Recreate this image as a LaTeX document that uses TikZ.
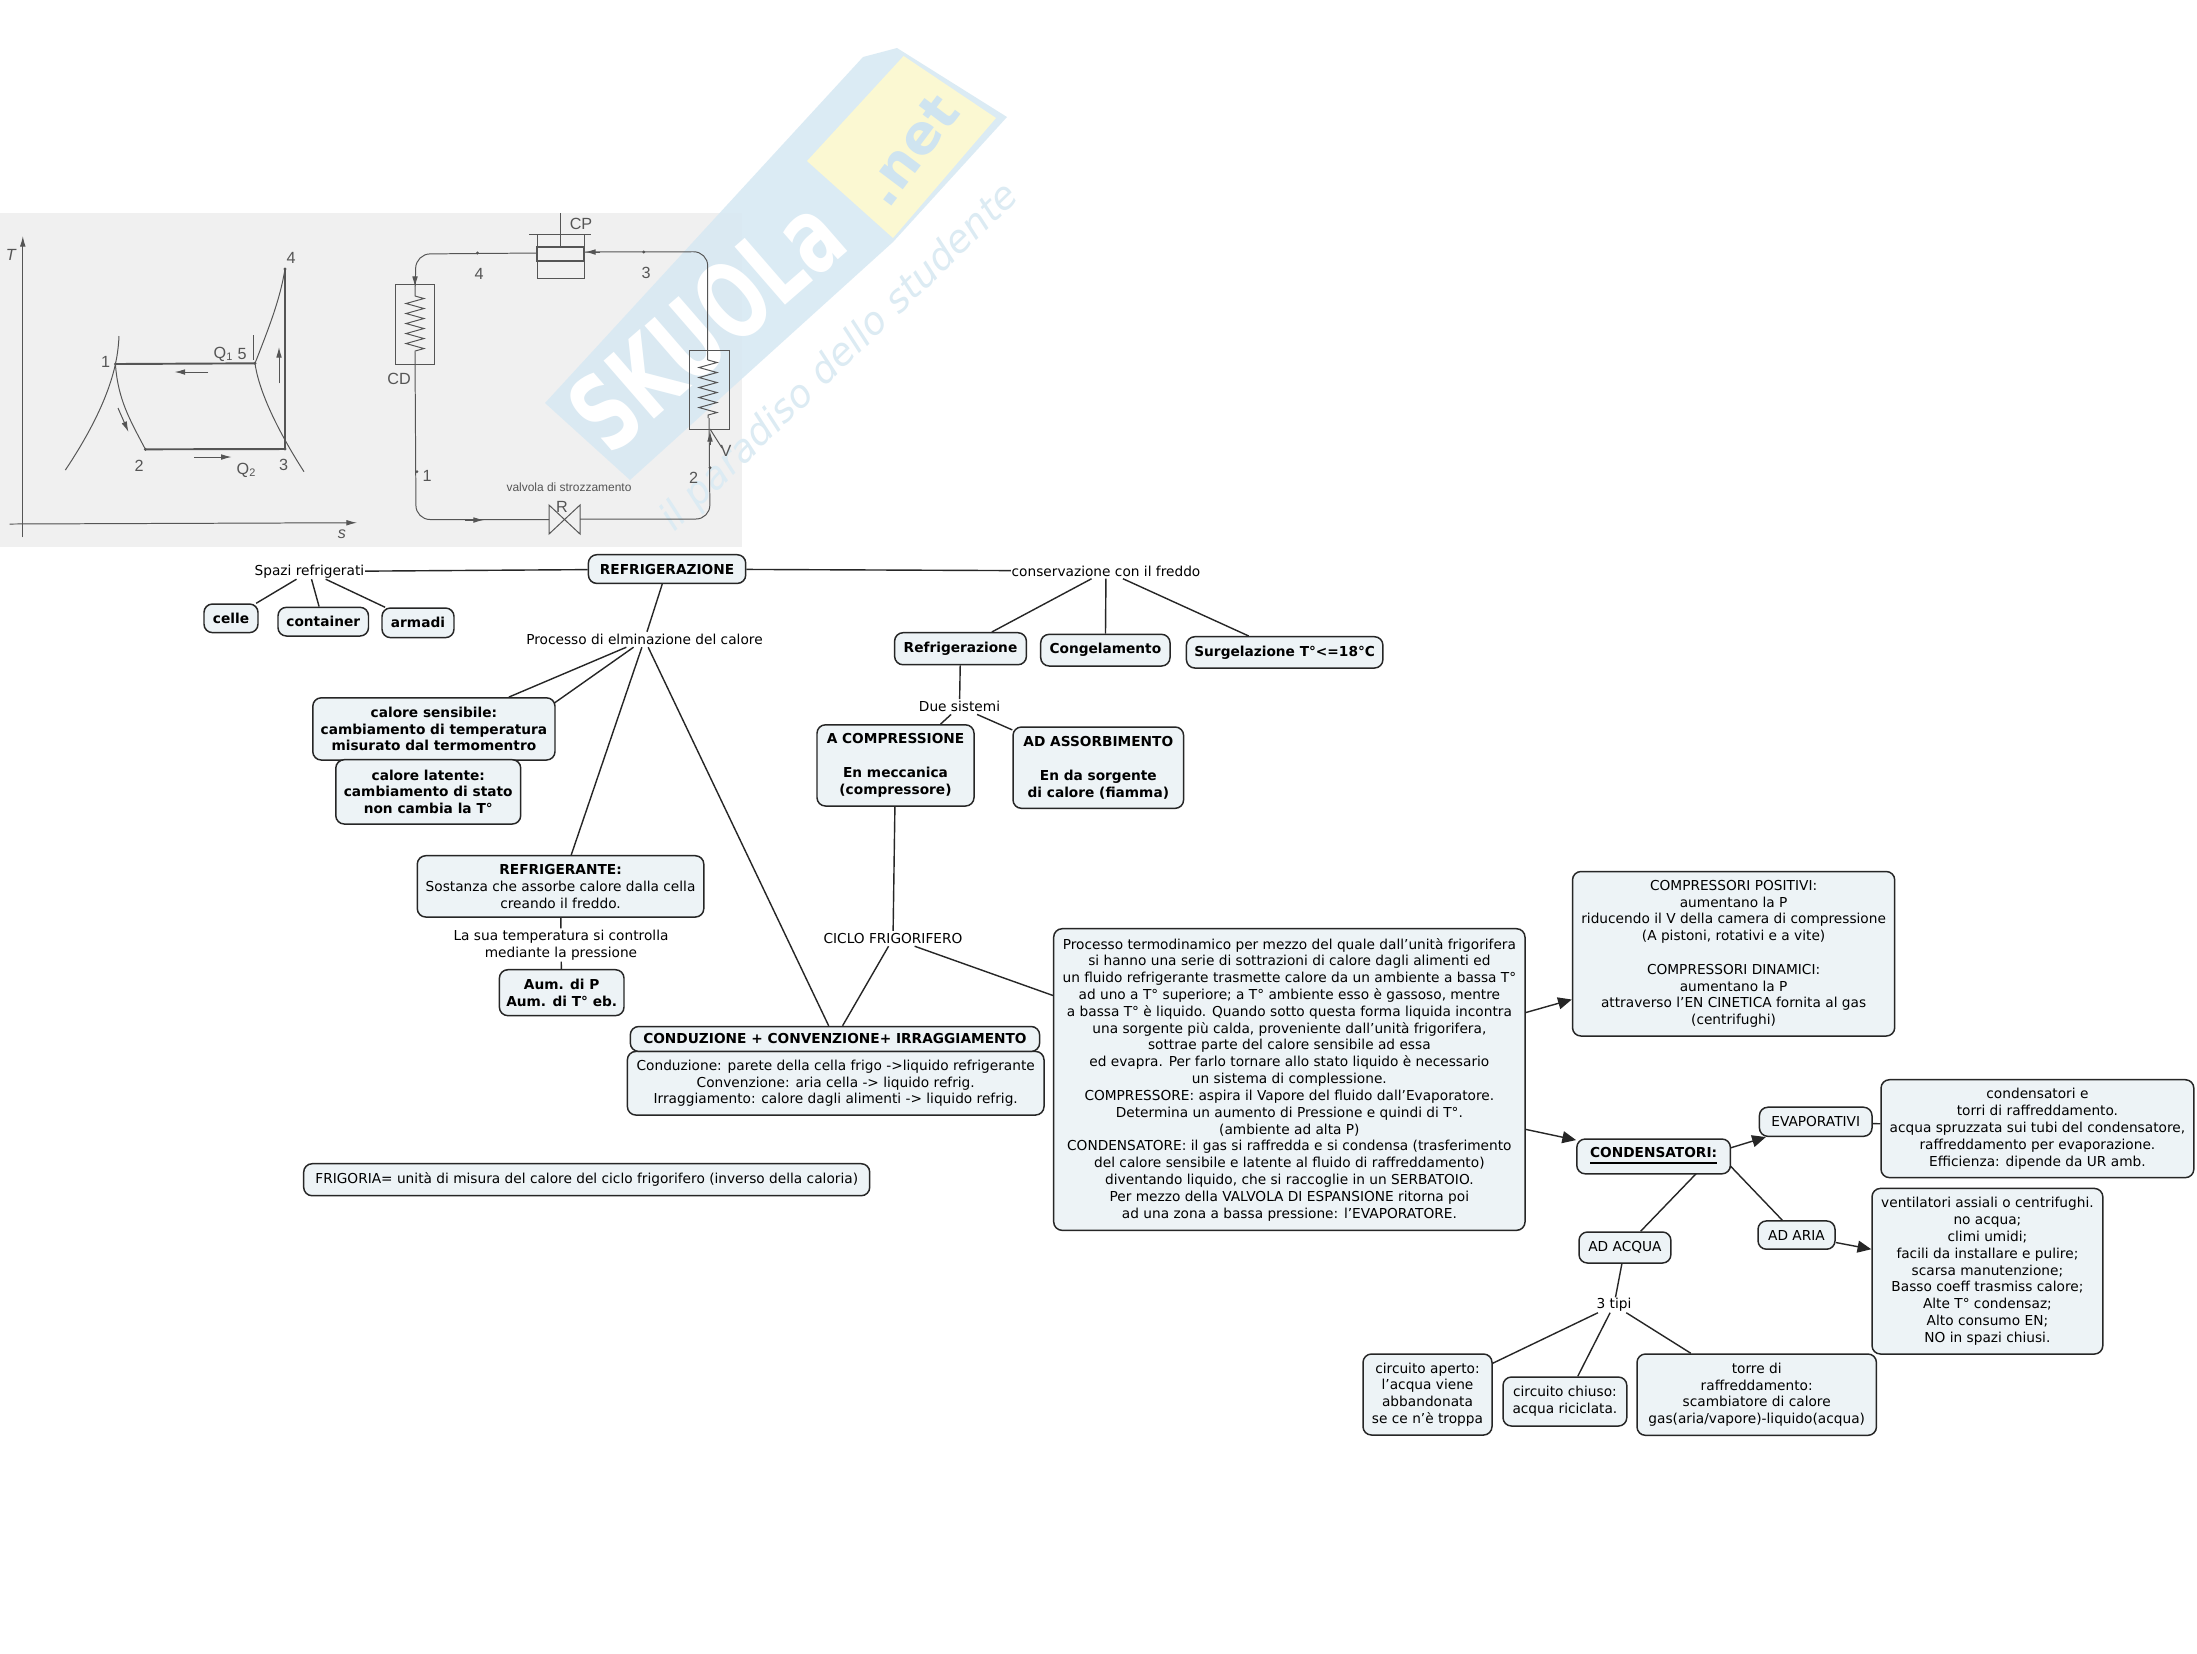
\documentclass[tikz,border=0pt]{standalone}
\usepackage{fontspec}
\setmainfont{DejaVu Sans}
\newfontfamily\picfont{Liberation Sans}
\usetikzlibrary{arrows.meta,decorations.pathmorphing,calc}
\pgfdeclarelayer{background}
\pgfsetlayers{background,main}
\definecolor{boxfill}{HTML}{EDF3F6}
\definecolor{picbg}{HTML}{F0F0F0}
\definecolor{picink}{HTML}{555555}
\definecolor{wmblue}{HTML}{D8E9F3}
\definecolor{wmnet}{HTML}{CFE4F0}
\definecolor{wmtext}{HTML}{DCEBF3}
\definecolor{wmyellow}{HTML}{FBF8D2}
\tikzset{
  x=0.01cm,y=-0.01cm,
  cbox/.style={draw=black!85,line width=0.42pt,fill=boxfill,rounded corners=2.4pt,inner sep=0pt,align=center,
     font=\fontsize{3.9}{4.78}\selectfont},
  bbox/.style={cbox,font=\fontsize{3.9}{4.78}\selectfont\bfseries},
  lbl/.style={inner sep=0pt,align=center,font=\fontsize{3.9}{4.78}\selectfont},
  link/.style={draw=black!85,line width=0.4pt},
  arrowlink/.style={link,-{Triangle[length=3.9pt,width=3.4pt]}},
  picline/.style={draw=picink,line width=0.28pt},
  picthick/.style={draw=picink,line width=0.55pt},
  pictip/.style={-{Latex[length=3pt,width=1.6pt]},draw=picink,fill=picink,line width=0.28pt},
  pictxt/.style={inner sep=0pt,text=picink,font=\picfont\fontsize{4.6}{5}\selectfont},
  picdot/.style={circle,fill=picink,draw=none,inner sep=0pt,minimum size=0.9pt},
}
\newcommand{\boxat}[7]{%
  \pgfmathsetmacro\cxx{(#3+#5)/2}\pgfmathsetmacro\cyy{(#4+#6)/2}%
  \pgfmathsetmacro\wxx{(#5-#3)*0.01}\pgfmathsetmacro\hxx{(#6-#4)*0.01}%
  \node[#2,minimum width=\wxx cm,minimum height=\hxx cm] (#1) at (\cxx,\cyy) {#7};}
\newcommand{\qsub}[2]{#1\raisebox{-0.8pt}{\fontsize{3.1}{3.1}\selectfont #2}}
\begin{document}
\begin{tikzpicture}
\useasboundingbox (0,0) rectangle (2197,1653);
\begin{pgfonlayer}{background}
\fill[white] (0,0) rectangle (2197,1653);
% scanned picture background
\fill[picbg] (0,213) rectangle (742,547);
% watermark
\fill[wmblue,fill opacity=.9] (545,403) -- (863,57) -- (897,48) -- (1007,117) -- (893,242) -- (630,480) -- cycle;
\fill[wmyellow] (807,161) -- (903.6,56) -- (996,118) -- (893,238) -- cycle;
\node[rotate=41,text=white,inner sep=0pt] (wmA) at (706,324) {\scalebox{.68}[1]{\fontsize{30}{30}\selectfont\bfseries SKUOLa}};
\node[rotate=53,text=wmnet,font=\fontsize{15.5}{15.5}\selectfont\bfseries,inner sep=0pt] (wmB) at (910,150) {.net};
\node[rotate=44,text=wmtext,font=\fontsize{10.8}{10.8}\selectfont\itshape,inner sep=0pt] (wmC) at (840,358) {il paradiso dello studente};
% T-s diagram
\draw[pictip] (22.8,537) -- (22.8,236);
\draw[pictip] (9.7,524) -- (357,522.7);
\draw[picline] (119,336) .. controls (118,360) and (112,400) .. (65.4,470);
\draw[picline] (304,471.7) .. controls (290,450) and (260,400) .. (255,363.3);
\draw[picline] (115.4,364) .. controls (118,400) and (130,420) .. (145.4,449.3);
\draw[picline] (255,363.3) .. controls (268,330) and (280,300) .. (285,269);
\draw[picthick] (115.4,364) -- (255,363.3);
\draw[picthick] (145.4,449.3) -- (285,449);
\draw[picthick] (285,449) -- (285,269);
\draw[pictip] (208,372) -- (174.5,372);
\draw[pictip] (194,457) -- (231.7,457);
\draw[pictip] (279,383) -- (279,347);
\draw[pictip] (118,408) -- (128.5,432);
\draw[picline] (253,335) -- (253,360);
\foreach \p in {(115.4,364),(255,363.3),(285,269),(285,449),(145.4,449.3)} \node[picdot] at \p {};
% refrigeration circuit
\draw[picline,rounded corners=4pt] (537,253) -- (416,254) -- (415,296);
\draw[picline,rounded corners=4pt] (415,352) -- (416,519.5) -- (549,519.5);
\draw[picline,rounded corners=4pt] (580,519) -- (710,519) -- (709,418);
\draw[picline,rounded corners=4pt] (707.7,360) -- (707.7,251.7) -- (584,252);
\draw[picline,decorate,decoration={zigzag,segment length=0.1cm,amplitude=0.09cm}] (415,296) -- (415,352);
\draw[picline,decorate,decoration={zigzag,segment length=0.1cm,amplitude=0.09cm}] (708,360) -- (708,418);
\draw[picline] (395,284.7) rectangle (434,364.7);
\draw[picline] (689,350) rectangle (729,429);
\draw[picline] (537,234) -- (537,278.3) -- (584,278.3) -- (584,234);
\draw[picline] (529,234) -- (591,234);
\draw[picthick] (537,246.7) rectangle (584,261);
\draw[picline] (560,213) -- (560,246.7);
\draw[picline] (549,505) -- (580,534) -- (580,505) -- (549,534) -- cycle;
\draw[picline] (710,429) -- (722,448);
\draw[pictip] (600,252) -- (585,252);
\draw[pictip] (415,270) -- (415,287);
\draw[pictip] (465,520) -- (484,520);
\draw[pictip] (710,445) -- (710,431);
\foreach \p in {(477.5,253),(643.7,252),(416.9,471.7),(710,467.7)} \node[picdot] at \p {};
\end{pgfonlayer}
% picture labels
\node[pictxt] (pT) at (10.7,255) {\itshape T};
\node[pictxt] (ps) at (342,534) {\itshape s};
\node[pictxt] (p1) at (105.7,362) {1};
\node[pictxt] (p5) at (242,354) {5};
\node[pictxt] (pQ1) at (223,354) {\qsub{Q}{1}};
\node[pictxt] (p4) at (291,258) {4};
\node[pictxt] (p2) at (139,466) {2};
\node[pictxt] (p3) at (283.6,465) {3};
\node[pictxt] (pQ2) at (246,470) {\qsub{Q}{2}};
\node[pictxt] (cCP) at (581,224) {CP};
\node[pictxt] (cCD) at (399,379) {CD};
\node[pictxt] (c4) at (479,274) {4};
\node[pictxt] (c3) at (646,273) {3};
\node[pictxt] (c1) at (427,476) {1};
\node[pictxt] (c2) at (693.6,477.7) {2};
\node[pictxt] (cV) at (726,450.7) {V};
\node[pictxt] (cR) at (562,507) {R};
\node[pictxt,font=\picfont\fontsize{3.4}{4}\selectfont] (cval) at (569,487) {valvola di strozzamento};
% concept nodes
\boxat{refr}{bbox}{588.4}{554.7}{745.7}{583.4}{REFRIGERAZIONE}
\boxat{spazi}{lbl}{254.3}{564.5}{364.5}{578.5}{Spazi refrigerati}
\boxat{celle}{bbox}{204}{604}{258}{632.6}{celle}
\boxat{cont}{bbox}{278}{607.3}{368.5}{636}{container}
\boxat{arm}{bbox}{382}{608}{454}{637.6}{armadi}
\boxat{proc}{lbl}{526}{632.5}{763}{646.5}{Processo di elminazione del calore}
\boxat{sens}{bbox}{312.8}{697.8}{555}{760}{calore sensibile:\\cambiamento di temperatura\\misurato dal termomentro}
\boxat{lat}{bbox}{335.8}{759.7}{520.7}{824}{calore latente:\\cambiamento di stato\\non cambia la T°}
\boxat{rfg}{cbox}{417.3}{855.7}{703.8}{917}{\textbf{REFRIGERANTE:}\\Sostanza che assorbe calore dalla cella\\creando il freddo.}
\boxat{sua}{lbl}{452}{929}{670}{961}{La sua temperatura si controlla\\mediante la pressione}
\boxat{aum}{bbox}{499.4}{969.7}{624}{1015.6}{Aum. di P\\Aum. di T° eb.}
\boxat{ciclo}{lbl}{820}{931.5}{966}{945.5}{CICLO FRIGORIFERO}
\boxat{cond}{cbox}{627.4}{1051.4}{1044}{1115}{Conduzione: parete della cella frigo ->liquido refrigerante\\Convenzione: aria cella -> liquido refrig.\\Irraggiamento: calore dagli alimenti -> liquido refrig.}
\boxat{condh}{bbox}{630.3}{1026.5}{1039.6}{1051.4}{CONDUZIONE + CONVENZIONE+ IRRAGGIAMENTO}
\boxat{frig}{cbox}{303.7}{1163.7}{869.7}{1195.7}{FRIGORIA= unità di misura del calore del ciclo frigorifero (inverso della caloria)}
\boxat{cons}{lbl}{1012}{564}{1200}{578}{conservazione con il freddo}
\boxat{refg}{bbox}{894.6}{632.7}{1026.4}{664.7}{Refrigerazione}
\boxat{cong}{bbox}{1040.7}{634.3}{1170}{666}{Congelamento}
\boxat{surg}{bbox}{1186.4}{636.7}{1382.9}{668}{Surgelazione T°<=18°C}
\boxat{due}{lbl}{919}{699.7}{1000}{713.7}{Due sistemi}
\boxat{acomp}{bbox}{817}{724.8}{974}{806}{A COMPRESSIONE\\[4.78pt]En meccanica\\(compressore)}
\boxat{assorb}{bbox}{1013}{727}{1183.6}{808.3}{AD ASSORBIMENTO\\[4.78pt]En da sorgente\\di calore (fiamma)}
\boxat{main}{cbox}{1053.7}{928.7}{1525}{1230.3}{Processo termodinamico per mezzo del quale dall'unità frigorifera\\si hanno una serie di sottrazioni di calore dagli alimenti ed\\un fluido refrigerante trasmette calore da un ambiente a bassa T°\\ad uno a T° superiore; a T° ambiente esso è gassoso, mentre\\a bassa T° è liquido. Quando sotto questa forma liquida incontra\\una sorgente più calda, proveniente dall'unità frigorifera,\\sottrae parte del calore sensibile ad essa\\ed evapra. Per farlo tornare allo stato liquido è necessario\\un sistema di complessione.\\COMPRESSORE: aspira il Vapore del fluido dall'Evaporatore.\\Determina un aumento di Pressione e quindi di T°.\\(ambiente ad alta P)\\CONDENSATORE: il gas si raffredda e si condensa (trasferimento\\del calore sensibile e latente al fluido di raffreddamento)\\diventando liquido, che si raccoglie in un SERBATOIO.\\Per mezzo della VALVOLA DI ESPANSIONE ritorna poi\\ad una zona a bassa pressione: l'EVAPORATORE.}
\boxat{compr}{cbox}{1572.5}{871.5}{1894.7}{1036}{COMPRESSORI POSITIVI:\\aumentano la P\\riducendo il V della camera di compressione\\(A pistoni, rotativi e a vite)\\[4.78pt]COMPRESSORI DINAMICI:\\aumentano la P\\attraverso l'EN CINETICA fornita al gas\\(centrifughi)}
\boxat{condz}{bbox}{1576.8}{1139}{1730.4}{1173.8}{\underline{CONDENSATORI:}}
\coordinate (hub) at (1717,1152);
\boxat{evap}{cbox}{1759.4}{1107.2}{1872}{1136.3}{EVAPORATIVI}
\boxat{evapt}{cbox}{1881}{1079.7}{2193.8}{1177.6}{condensatori e\\torri di raffreddamento.\\acqua spruzzata sui tubi del condensatore,\\raffreddamento per evaporazione.\\Efficienza: dipende da UR amb.}
\boxat{acqua}{cbox}{1579}{1232}{1670.9}{1263}{AD ACQUA}
\boxat{aria}{cbox}{1758}{1220.9}{1835}{1249.2}{AD ARIA}
\boxat{vent}{cbox}{1872}{1188.4}{2102.8}{1354}{ventilatori assiali o centrifughi.\\no acqua;\\climi umidi;\\facili da installare e pulire;\\scarsa manutenzione;\\Basso coeff trasmiss calore;\\Alte T° condensaz;\\Alto consumo EN;\\NO in spazi chiusi.}
\boxat{tipi}{lbl}{1594}{1298}{1634}{1312}{3 tipi}
\boxat{torre}{cbox}{1637}{1354}{1876.4}{1435.3}{torre di\\raffreddamento:\\scambiatore di calore\\gas(aria/vapore)-liquido(acqua)}
\boxat{chiuso}{cbox}{1503}{1377}{1626.8}{1426}{circuito chiuso:\\acqua riciclata.}
\boxat{aperto}{cbox}{1363}{1354}{1492}{1435}{circuito aperto:\\l'acqua viene\\abbandonata\\se ce n'è troppa}
% connectors
\begin{pgfonlayer}{background}
\draw[link] (spazi) -- (refr);
\draw[link] (refr) -- (cons);
\draw[link] (spazi) -- (celle);
\draw[link] (spazi) -- (cont);
\draw[link] (spazi) -- (arm);
\draw[link] (refr) -- (proc);
\draw[link] (proc) -- (sens);
\draw[link] (proc) -- (lat);
\draw[link] (proc) -- (rfg);
\draw[link] (proc) -- (condh);
\draw[link] (rfg) -- (sua);
\draw[link] (sua) -- (aum);
\draw[link] (cons) -- (refg);
\draw[link] (cons) -- (cong);
\draw[link] (cons) -- (surg);
\draw[link] (refg) -- (due);
\draw[link] (due) -- (acomp);
\draw[link] (due) -- (assorb);
\draw[link] (acomp) -- (ciclo);
\draw[link] (ciclo) -- (condh);
\draw[link] (ciclo) -- (main);
\draw[arrowlink] (main) -- (compr);
\draw[arrowlink] (main) -- (condz);
\draw[arrowlink] (hub) -- (evap);
\draw[link] (evap) -- (evapt);
\draw[link] (hub) -- (acqua);
\draw[link] (hub) -- (aria);
\draw[arrowlink] (aria) -- (vent);
\draw[link] (acqua) -- (tipi);
\draw[link] (tipi) -- (aperto);
\draw[link] (tipi) -- (chiuso);
\draw[link] (tipi) -- (torre);
\end{pgfonlayer}
\end{tikzpicture}
\end{document}
